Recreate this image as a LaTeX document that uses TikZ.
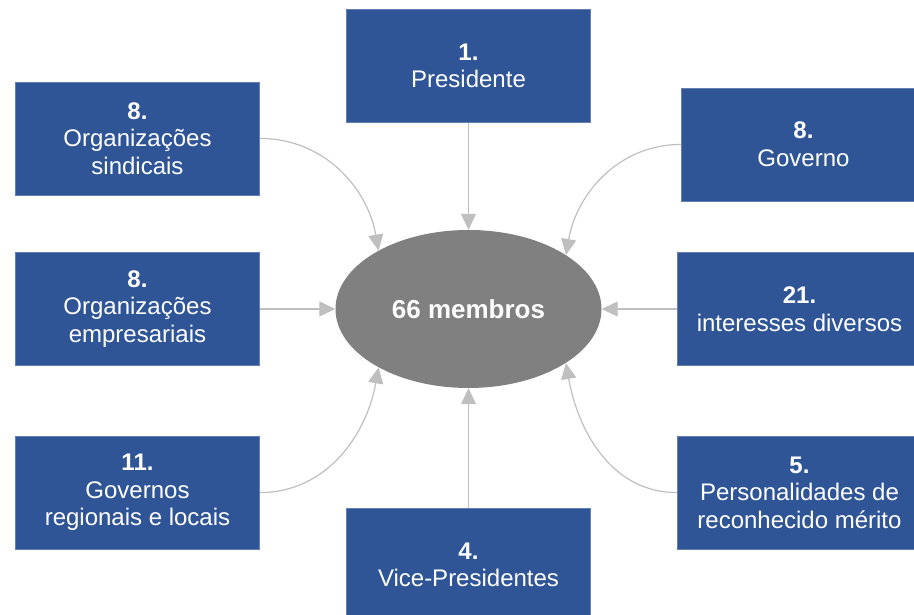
\documentclass[tikz,border=0pt]{standalone}
\usepackage{fontspec}
\setmainfont{Liberation Sans}
\usepackage{xcolor}
\usepackage{tikz}
\usetikzlibrary{shapes.geometric, arrows.meta, positioning}
\definecolor{member_box}{RGB}{47, 85, 151}
\definecolor{member_core}{RGB}{128, 128, 128}
\definecolor{member_link}{RGB}{191, 191, 191}
\tikzstyle{arrow} = [line width=1.2pt, draw=member_link, -{Triangle[width=15pt, length=16pt, fill=member_link]}]
\tikzstyle{groupbox} = [rectangle, draw=member_box!75!white, line width=0.6pt, fill=member_box, text=white, minimum width=244pt, minimum height=113pt, align=center, font=\fontsize{24}{27.5}\selectfont]

\begin{document}
\begin{tikzpicture}[x=1pt, y=1pt]
\useasboundingbox (0,0) rectangle (914,615);

% Central node
\node[ellipse, fill=member_core, minimum width=266pt, minimum height=158pt, text=white, font=\fontsize{26}{30}\selectfont\bfseries] (center) at (468.5,306) {66 membros};

% Member groups
\node[groupbox, above=107pt of center] (pres) {\textbf{1.}\\Presidente};
\node[groupbox, below=120pt of center] (vice) {\textbf{4.}\\Vice-Presidentes};

\node[groupbox, left=75.5pt of center] (empr) {\textbf{8.}\\Organizações\\empresariais};
\node[groupbox, above=57pt of empr] (sind) {\textbf{8.}\\Organizações\\sindicais};
\node[groupbox, below=70pt of empr] (regio) {\textbf{11.}\\Governos\\regionais e locais};

\node[groupbox, right=75.5pt of center] (inter) {\textbf{21.}\\interesses diversos};
\node[groupbox, above=51pt of inter, xshift=4pt] (gov) {\textbf{8.}\\Governo};
\node[groupbox, below=70pt of inter] (pers) {\textbf{5.}\\Personalidades de\\reconhecido mérito};

% Arrows
\draw[arrow] (pres) -- (center);
\draw[arrow] (vice) -- (center);
\draw[arrow] (empr) -- (center);
\draw[arrow] (inter) -- (center);
\draw[arrow] (sind.east) to[out=0, in=100] (center.147);
\draw[arrow] (regio.east) to[out=0, in=-100] (center.213);
\draw[arrow] (gov.west) to[out=180, in=80] (center.29);
\draw[arrow] (pers.west) to[out=180, in=-80] (center.331);

\end{tikzpicture}
\end{document}
